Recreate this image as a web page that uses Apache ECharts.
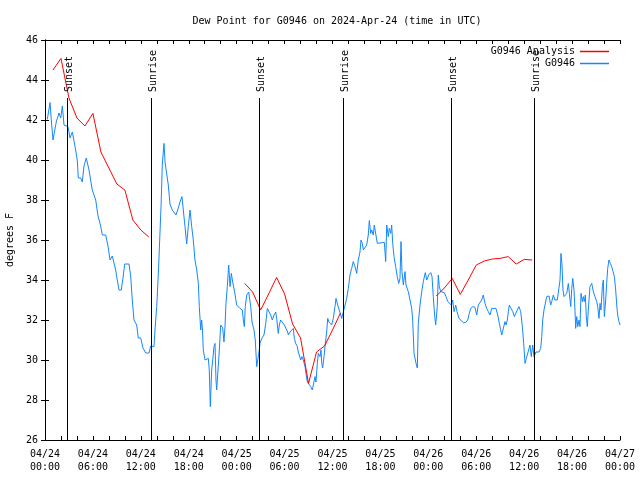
<!DOCTYPE html>
<html>
<head>
<meta charset="utf-8">
<script src="https://cdn.jsdelivr.net/npm/echarts@6/dist/echarts.min.js"></script>
<style>html,body{margin:0;padding:0;background:#fff}#c{width:640px;height:480px}</style>
</head>
<body>
<div id="c"></div>
<script>
// Hours since 2024-04-24 00:00 UTC
const tickLabels = ['04/24\n00:00','04/24\n06:00','04/24\n12:00','04/24\n18:00','04/25\n00:00','04/25\n06:00','04/25\n12:00','04/25\n18:00','04/26\n00:00','04/26\n06:00','04/26\n12:00','04/26\n18:00','04/27\n00:00'];

const obsHours = [0.29,0.63,0.79,1.00,1.25,1.41,1.75,1.97,2.17,2.38,2.59,2.88,3.13,3.42,3.63,3.84,4.04,4.17,4.47,4.67,4.88,5.17,5.51,5.92,6.35,6.64,6.97,7.18,7.60,7.89,8.14,8.43,8.64,8.85,9.05,9.27,9.55,9.80,9.98,10.52,10.73,10.93,11.14,11.48,11.68,11.98,12.27,12.61,13.02,13.24,13.65,13.77,13.99,14.19,14.31,14.53,14.69,14.90,15.03,15.24,15.44,15.65,15.94,16.15,16.40,16.69,16.90,17.15,17.32,17.53,17.74,17.94,18.16,18.37,18.57,18.78,19.00,19.20,19.32,19.50,19.62,19.72,19.82,20.04,20.45,20.57,20.70,20.87,21.00,21.16,21.29,21.41,21.50,21.63,21.83,22.00,22.25,22.41,22.54,22.66,22.83,23.00,23.17,23.33,23.50,23.75,24.00,24.42,24.71,24.83,24.96,25.08,25.26,25.51,25.76,25.92,26.17,26.33,26.51,26.76,26.83,26.92,27.14,27.42,27.64,27.84,28.05,28.26,28.46,28.68,28.89,29.01,29.21,29.34,29.51,29.76,29.97,30.18,30.39,30.47,30.68,30.89,31.09,31.22,31.39,31.59,31.72,31.84,32.02,32.18,32.34,32.56,32.68,32.85,33.06,33.27,33.47,33.60,33.81,33.93,34.10,34.22,34.44,34.56,34.65,34.77,34.94,35.06,35.27,35.40,35.56,35.69,35.90,36.10,36.31,36.44,36.65,36.85,37.03,37.15,37.35,37.57,37.78,37.98,38.19,38.40,38.60,38.82,39.03,39.23,39.44,39.57,39.73,39.86,40.07,40.28,40.48,40.61,40.78,40.91,41.11,41.23,41.45,41.61,41.86,42.49,42.66,42.79,42.99,43.11,43.29,43.41,43.54,43.70,43.91,44.11,44.29,44.45,44.58,44.70,44.87,45.08,45.20,45.49,45.71,45.92,46.04,46.21,46.46,46.62,46.74,46.96,47.17,47.37,47.62,47.80,48.05,48.30,48.46,48.62,48.80,48.92,49.12,49.25,49.37,49.55,49.75,50.00,50.21,50.43,50.68,50.88,51.05,51.22,51.43,51.59,51.84,52.09,52.38,52.68,52.93,53.13,53.30,53.56,53.84,54.06,54.26,54.47,54.68,54.88,55.10,55.31,55.51,55.72,55.94,56.47,56.69,56.89,57.06,57.19,57.39,57.60,57.73,57.89,58.02,58.14,58.36,58.57,58.77,58.94,59.14,59.35,59.57,59.77,59.94,60.11,60.27,60.52,60.73,60.89,61.07,61.23,61.48,61.86,62.07,62.20,62.32,62.48,62.61,62.82,63.11,63.32,63.45,63.65,63.86,64.15,64.36,64.49,64.61,64.74,64.86,64.99,65.11,65.33,65.53,65.66,65.83,65.96,66.08,66.24,66.37,66.45,66.58,66.71,66.87,66.99,67.12,67.28,67.41,67.53,67.66,67.78,67.91,68.03,68.24,68.46,68.66,68.87,69.08,69.21,69.37,69.50,69.62,69.79,69.91,70.04,70.21,70.33,70.46,70.62,70.79,70.96,71.13,71.29,71.46,71.59,71.71,71.87,72.00];
const obsValues = [42.03,42.87,42.0,41.0,41.0,41.9,42.35,42.1,42.7,41.75,41.75,41.67,41.1,41.4,41.35,40.5,40.0,39.1,39.1,38.9,39.7,40.1,39.5,38.5,38.0,37.2,36.7,36.25,36.25,35.7,35.0,35.2,35.2,34.5,34.0,33.5,33.5,34.2,34.8,34.8,34.2,33.0,32.0,31.75,31.1,31.1,30.6,30.35,30.35,30.7,30.67,31.5,32.67,34.3,35.5,37.67,39.8,40.83,39.9,39.3,38.75,37.8,37.5,37.6,37.25,37.6,37.9,38.17,37.5,36.67,35.8,36.67,37.5,36.67,36.0,35.0,34.5,33.83,32.67,31.5,32.0,31.5,30.5,30.0,30.08,29.5,27.67,29.5,30.0,30.67,30.83,29.0,28.5,29.3,30.5,31.75,31.6,30.9,31.67,32.83,33.67,34.75,33.67,34.33,33.9,33.4,32.75,32.58,32.5,32.0,31.67,32.67,33.25,33.4,32.67,31.9,31.5,31.0,29.67,29.67,30.5,30.83,31.08,31.25,31.83,32.58,32.5,32.25,32.0,32.25,32.4,32.08,31.33,31.75,32.0,32.0,31.75,31.67,31.4,31.25,31.4,31.33,31.58,31.08,30.83,30.67,30.4,30.25,30.0,30.17,30.0,29.67,29.33,28.9,28.9,28.67,28.5,28.75,29.17,28.9,29.83,30.33,30.17,30.5,29.83,29.6,30.17,30.67,31.4,32.08,31.9,31.83,31.75,32.08,32.67,33.08,32.75,32.67,32.25,32.08,32.4,32.5,33.08,33.58,34.25,34.58,34.92,34.67,34.33,35.0,35.4,36.0,35.83,35.5,35.5,35.75,36.25,36.97,36.33,36.5,36.25,36.75,36.75,35.83,35.88,35.88,34.92,36.75,36.17,36.58,36.33,36.75,35.83,35.17,34.67,34.17,33.83,34.08,35.92,34.42,33.75,34.42,33.75,33.42,33.33,32.58,32.0,30.33,29.83,29.6,31.83,32.75,33.42,33.92,34.37,34.0,34.25,34.37,34.17,33.17,32.17,31.75,32.67,34.25,33.67,33.42,33.42,33.37,33.17,32.92,32.83,32.75,33.0,32.42,32.75,32.42,32.08,32.0,31.87,31.87,32.0,32.33,32.58,32.67,32.63,32.25,32.75,32.83,33.0,33.25,32.83,32.58,32.42,32.25,32.58,32.58,32.25,31.83,31.5,31.25,31.25,31.92,31.75,32.0,32.42,32.75,32.58,32.42,32.17,32.33,32.5,32.67,32.42,31.67,30.83,29.83,30.08,30.08,30.75,30.17,30.75,30.17,30.4,30.4,30.58,31.17,32.0,32.5,32.75,33.17,33.2,32.75,32.92,33.25,33.0,33.0,33.08,34.0,35.33,34.75,33.5,33.17,33.08,33.33,33.83,33.33,32.67,33.58,34.08,33.5,32.42,31.58,32.17,31.67,32.0,31.67,33.33,32.92,33.17,32.92,33.25,32.17,31.67,32.5,33.67,33.83,33.42,33.33,32.92,32.67,32.08,32.83,32.5,33.67,34.0,32.17,33.0,33.83,34.58,35.0,34.83,34.67,34.42,34.17,33.5,32.75,32.25,31.92,31.75];

// Analysis: hourly values in three runs ('-' = no data)
const anaHours  = [1,2,3,4,5,6,7,8,9,10,11,12,13, 19, 25,26,27,28,29,30,31,32,33,34,35,36,37, 43, 49,50,51,52,53,54,55,56,57,58,59,60,61];
const anaValues = [44.5,45.08,43.1,42.1,41.7,42.33,40.4,39.6,38.8,38.5,37.0,36.5,36.15, '-', 33.83,33.4,32.5,33.3,34.13,33.3,31.8,31.1,28.83,30.4,30.7,31.5,32.35, '-', 33.2,33.6,34.08,33.28,34.0,34.75,34.95,35.05,35.08,35.17,34.8,35.03,35.0];

const sunHours  = [2.8, 13.3, 26.83, 37.33, 50.84, 61.27];
const sunLabels = ['Sunset','Sunrise','Sunset','Sunrise','Sunset','Sunrise'];

const FONT = 'DejaVu Sans Mono';
const chart = echarts.init(document.getElementById('c'), null, {renderer:'canvas'});

const xBase = {
  type:'value', min:0, max:72, interval:2,
  splitLine:{show:false},
  axisLine:{show:true, lineStyle:{color:'#000', width:1}},
  axisTick:{show:true, inside:true, length:4, lineStyle:{color:'#000'}}
};
const yBase = {
  type:'value', min:26, max:46, interval:2,
  splitLine:{show:false},
  axisLine:{show:true, lineStyle:{color:'#000', width:1}},
  axisTick:{show:true, inside:true, length:4, lineStyle:{color:'#000'}}
};

chart.setOption({
  animation:false,
  backgroundColor:'#fff',
  textStyle:{fontFamily:FONT},
  title:{
    text:'Dew Point for G0946 on 2024-Apr-24 (time in UTC)',
    left:332, top:11, textAlign:'center',
    textStyle:{fontFamily:FONT, fontSize:10, fontWeight:'normal', color:'#000'}
  },
  legend:{
    orient:'vertical', align:'right', right:26, top:41,
    itemWidth:29, itemHeight:1.5, itemGap:1, icon:'rect',
    textStyle:{fontFamily:FONT, fontSize:10, color:'#000', lineHeight:11},
    data:[
      {name:'G0946 Analysis', itemStyle:{color:'#ff0000'}},
      {name:'G0946', itemStyle:{color:'#1487ff'}}
    ]
  },
  grid:{left:45, right:20, top:40, bottom:40, containLabel:false, outerBoundsMode:'none'},
  xAxis:[
    Object.assign({}, xBase, {
      position:'bottom',
      axisLabel:{show:true, margin:8, color:'#000', fontFamily:FONT, fontSize:10, lineHeight:13,
        formatter:(v)=> (v % 6 === 0 ? tickLabels[v/6] : '')}
    }),
    Object.assign({}, xBase, {position:'top', axisLabel:{show:false}})
  ],
  yAxis:[
    Object.assign({}, yBase, {
      position:'left',
      name:'degrees F', nameLocation:'middle', nameGap:30, nameRotate:90,
      nameTextStyle:{fontFamily:FONT, fontSize:10, color:'#000'},
      axisLabel:{show:true, margin:7, color:'#000', fontFamily:FONT, fontSize:10}
    }),
    Object.assign({}, yBase, {position:'right', axisLabel:{show:false}})
  ],
  series:[
    {
      name:'G0946', type:'line', xAxisIndex:0, yAxisIndex:0,
      data: obsHours.map((h,i)=>[h, obsValues[i]]),
      showSymbol:false, symbol:'none',
      lineStyle:{color:'#1487ff', width:1}, itemStyle:{color:'#1487ff'},
      z:3
    },
    {
      name:'G0946 Analysis', type:'line', xAxisIndex:0, yAxisIndex:0,
      data: anaHours.map((h,i)=>[h, anaValues[i]]),
      connectNulls:false, showSymbol:false, symbol:'none',
      lineStyle:{color:'#ff0000', width:1}, itemStyle:{color:'#ff0000'},
      z:4
    },
    {
      name:'sun', type:'custom', xAxisIndex:0, yAxisIndex:0,
      data: sunHours.map(h=>[h, 43.1]),
      clip:false, silent:true, z:5,
      renderItem:(params, api)=>{
        const h = api.value(0);
        const p0 = api.coord([h, 26]);
        const p1 = api.coord([h, api.value(1)]);
        const x = Math.round(p0[0]) + 0.5;
        return {type:'group', children:[
          {type:'line', shape:{x1:x, y1:p0[1], x2:x, y2:p1[1]}, style:{stroke:'#000', lineWidth:1}},
          {type:'text', x:x+2, y:p1[1]-6, rotation:Math.PI/2,
           style:{text:sunLabels[params.dataIndex], font:'10px "DejaVu Sans Mono"', fill:'#000', align:'left', verticalAlign:'middle'}}
        ]};
      }
    }
  ]
});
</script>
</body>
</html>
